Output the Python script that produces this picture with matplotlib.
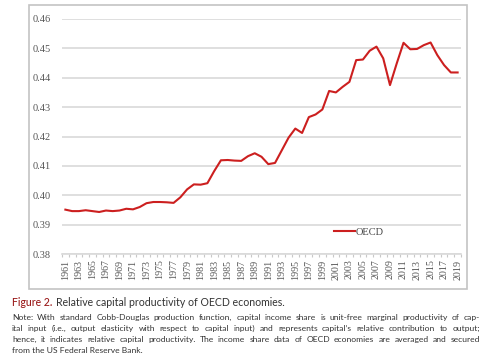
import matplotlib
matplotlib.use("Agg")
import matplotlib.pyplot as plt
from matplotlib.patches import Rectangle
import numpy as np

# Relative capital productivity of OECD economies, 1961-2019
years = list(range(1961, 2020))
oecd = [0.3951, 0.3946, 0.3946, 0.3949, 0.3946, 0.3943, 0.3948, 0.3946, 0.3948, 0.3954,
        0.3952, 0.3960, 0.3973, 0.3977, 0.3977, 0.3976, 0.3974, 0.3993, 0.4020, 0.4037,
        0.4036, 0.4041, 0.4082, 0.4119, 0.4120, 0.4118, 0.4117, 0.4133, 0.4143, 0.4131,
        0.4106, 0.4110, 0.4153, 0.4196, 0.4227, 0.4212, 0.4266, 0.4275, 0.4292, 0.4355,
        0.4350, 0.4369, 0.4386, 0.4460, 0.4462, 0.4492, 0.4506, 0.4466, 0.4375, 0.4449,
        0.4519, 0.4497, 0.4498, 0.4511, 0.4520, 0.4477, 0.4443, 0.4418, 0.4418]
yticks = [0.38, 0.39, 0.40, 0.41, 0.42, 0.43, 0.44, 0.45, 0.46]

title_red = "Figure 2."
title_rest = "Relative capital productivity of OECD economies."
note_lines = [
    "Note: With standard Cobb-Douglas production function, capital income share is unit-free marginal productivity of cap-",
    "ital input (i.e., output elasticity with respect to capital input) and represents capital\u2019s relative contribution to output;",
    "hence, it indicates relative capital productivity. The income share data of OECD economies are averaged and secured",
    "from the US Federal Reserve Bank.",
]

W, H = 491, 360
fig = plt.figure(figsize=(W / 100, H / 100), dpi=100)

# grey frame around the chart area
fig.patches.append(Rectangle((29 / W, 1 - 289 / H), (467 - 29) / W, (289 - 5) / H,
                             transform=fig.transFigure, fill=False,
                             edgecolor="#c4c4c4", linewidth=1.2))

ax = fig.add_axes([62 / W, 1 - 254 / H, (461 - 62) / W, (254 - 19) / H])
ax.plot(years, oecd, color="#cc1f1f", linewidth=1.5, label="OECD")

ax.set_xlim(1960.5, 2019.5)
ax.set_ylim(0.38, 0.46)
ax.set_yticks(yticks)
ax.set_yticklabels(["%.2f" % v for v in yticks])
ax.grid(axis="y", color="#d9d9d9", linewidth=1.2)
ax.set_axisbelow(True)

ax.set_xticks(years[::2])
ax.set_xticklabels([str(y) for y in years[::2]], rotation=90)
ax.set_xticks(np.arange(1960.5, 2020, 1), minor=True)

for s in ["top", "right", "left"]:
    ax.spines[s].set_visible(False)
ax.spines["bottom"].set_color("#d9d9d9")
ax.spines["bottom"].set_linewidth(1.2)

ax.tick_params(axis="y", length=0, pad=8, labelsize=7.5, labelcolor="#555555")
ax.tick_params(axis="x", which="major", length=0, pad=4, labelsize=7.2, labelcolor="#555555")
ax.tick_params(axis="x", which="minor", length=2.5, color="#c8c8c8", width=0.8)
for lbl in ax.get_xticklabels() + ax.get_yticklabels():
    lbl.set_fontfamily("Liberation Serif")

leg = ax.legend(loc="center left", bbox_to_anchor=(334 / W, 1 - 232 / H),
                bbox_transform=fig.transFigure, frameon=False, handlelength=2.0,
                handletextpad=0.1, borderpad=0, borderaxespad=0,
                prop={"family": "Liberation Serif", "size": 7.5})
for t in leg.get_texts():
    t.set_color("#444444")

# caption
t1 = fig.text(12 / W, 1 - 306 / H, title_red, color="#9b1c1c", fontsize=7.6,
              fontfamily="Lato", fontweight="medium", va="baseline")
fig.canvas.draw()
renderer = fig.canvas.get_renderer()
bb = t1.get_window_extent(renderer)
fig.text((bb.x1 + 4) / W, 1 - 306 / H, title_rest, color="#333333", fontsize=7.6,
         fontfamily="Lato", va="baseline")

# note, justified between x=12 and x=480 like the journal layout
x0, x1 = 12, 480
for i, line in enumerate(note_lines):
    y = 1 - (320 + i * 11) / H
    if i == len(note_lines) - 1:
        fig.text(x0 / W, y, line, color="#333333", fontsize=6.1,
                 fontfamily="Lato", va="baseline")
        continue
    words = line.split(" ")
    texts = [fig.text(0, y, w, color="#333333", fontsize=6.1,
                      fontfamily="Lato", va="baseline") for w in words]
    widths = [t.get_window_extent(renderer).width for t in texts]
    gap = (x1 - x0 - sum(widths)) / (len(words) - 1)
    x = x0
    for t, w in zip(texts, widths):
        t.set_x(x / W)
        x += w + gap

fig.savefig("out.png", dpi=100)
